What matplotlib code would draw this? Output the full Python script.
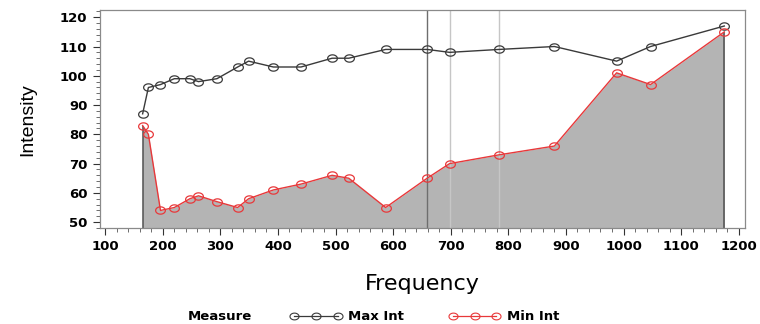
import matplotlib
matplotlib.use('Agg')
import matplotlib.pyplot as plt
import numpy as np
from matplotlib.path import Path
from matplotlib.lines import Line2D
from matplotlib.ticker import MultipleLocator

plt.rcParams['font.family'] = ['DejaVu Sans']

# note frequencies (Hz) and measured intensities
frequency = [165, 175, 196, 220, 247, 262, 294, 330, 349, 392, 440, 494, 523,
             587, 659, 698, 784, 880, 988, 1047, 1175]
max_int = [87, 96, 97, 99, 99, 98, 99, 103, 105, 103, 103, 106, 106,
           109, 109, 108, 109, 110, 105, 110, 117]
min_int = [83, 80, 54, 55, 58, 59, 57, 55, 58, 61, 63, 66, 65,
           55, 65, 70, 73, 76, 101, 97, 115]
ref_lines = [659, 698, 784]
ref_colors = ['#6e6e6e', '#c6c6c6', '#c6c6c6']

y_bottom, y_top = 48, 122.3

# slightly flattened circle marker
t = np.linspace(0, 2 * np.pi, 40)
ellipse = Path(np.column_stack([np.cos(t), 0.75 * np.sin(t)]), closed=True)

fig = plt.figure(figsize=(7.6, 3.24), dpi=100)
ax = fig.add_axes([0.1316, 0.2963, 0.8487, 0.6713])

ax.fill_between(frequency, min_int, y_bottom, color='#b4b4b4', lw=0, zorder=1)
ax.vlines([frequency[0], frequency[-1]], y_bottom, [min_int[0], min_int[-1]],
          color='#505050', lw=1.1, zorder=2)
for xv, c in zip(ref_lines, ref_colors):
    ax.axvline(xv, color=c, lw=1.0, zorder=2)

ax.plot(frequency, max_int, color='#3a3a3a', lw=1.0, marker=ellipse, ms=7,
        mfc='none', mec='#3a3a3a', mew=0.9, zorder=3)
ax.plot(frequency, min_int, color='#e8383a', lw=1.0, marker=ellipse, ms=7,
        mfc='none', mec='#e8383a', mew=0.9, zorder=3)

ax.set_xlim(91, 1211)
ax.set_ylim(y_bottom, y_top)
ax.xaxis.set_major_locator(MultipleLocator(100))
ax.xaxis.set_minor_locator(MultipleLocator(20))
ax.yaxis.set_major_locator(MultipleLocator(10))
ax.yaxis.set_minor_locator(MultipleLocator(2))
ax.tick_params(which='major', length=5, width=0.8, color='#333333',
               labelsize=9.5, pad=4)
ax.tick_params(which='minor', length=3, width=0.6, color='#555555')
for lab in ax.get_xticklabels() + ax.get_yticklabels():
    lab.set_fontweight('bold')
for s in ax.spines.values():
    s.set_color('#8a8a8a')
    s.set_linewidth(0.9)

ax.set_xlabel('Frequency', fontsize=16, labelpad=15)
ax.set_ylabel('Intensity', fontsize=14, family='Liberation Sans', labelpad=17)

fig.text(0.289, 0.022, 'Measure', fontsize=9.5, fontweight='bold',
         ha='center', va='center')
handles = [
    Line2D([], [], color='#3a3a3a', lw=0.9, marker=ellipse, ms=6.5,
           mfc='none', mec='#3a3a3a', mew=0.8),
    Line2D([], [], color='#e8383a', lw=0.9, marker=ellipse, ms=6.5,
           mfc='none', mec='#e8383a', mew=0.8),
]
leg = fig.legend(handles, ['Max Int', 'Min Int'], ncol=2, frameon=False,
                 numpoints=3, handlelength=3.9, handletextpad=0.5,
                 columnspacing=3.4, loc='lower left',
                 bbox_to_anchor=(0.366, -0.034),
                 prop={'size': 9.5, 'weight': 'bold'})

fig.savefig('out.png', dpi=100)
